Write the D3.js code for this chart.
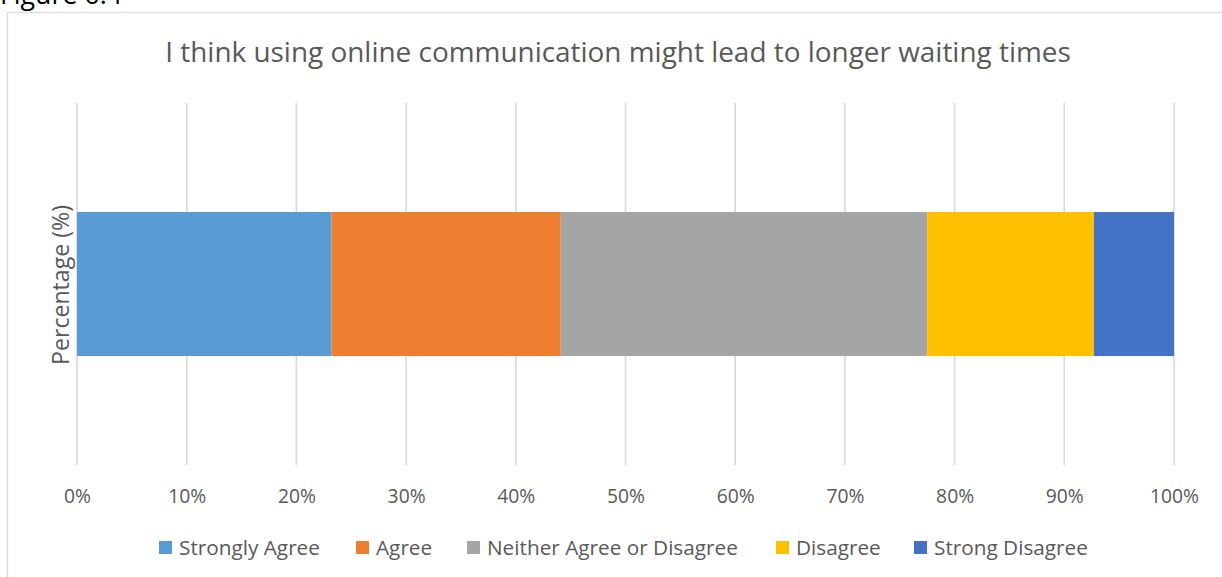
<!DOCTYPE html>
<html>
<head>
<meta charset="utf-8">
<script src="https://cdn.jsdelivr.net/npm/d3@7"></script>
<style>
  html, body { margin: 0; padding: 0; background: #fff; }
  svg { display: block; }
  text { font-family: "Open Sans", sans-serif; }
</style>
</head>
<body>
<svg id="chart" width="1222" height="577"></svg>
<script>
// Response categories and their share of answers (%)
const categories = ["Strongly Agree", "Agree", "Neither Agree or Disagree", "Disagree", "Strong Disagree"];
const shares = [23.2, 20.9, 33.4, 15.2, 7.3];
const colors = ["#5B9BD5", "#ED7D31", "#A5A5A5", "#FFC000", "#4472C4"];
const tickValues = [0, 10, 20, 30, 40, 50, 60, 70, 80, 90, 100];
const tickLabels = tickValues.map(v => v + "%");
const question = ["Percentage (%)"];

const title = "I think using online communication might lead to longer waiting times";
const textColor = "#595959";
const gridColor = "#D9D9D9";

const svg = d3.select("#chart");

// Size a text so that its run spans the wanted width
function fitSize(sel, width) {
  const base = 20;
  sel.attr("font-size", base);
  const w = sel.node().getComputedTextLength();
  const size = base * width / w;
  sel.attr("font-size", size);
  return size;
}

// Figure caption above the chart frame
const caption = svg.append("text")
  .attr("x", 0).attr("y", 4)
  .attr("fill", "#000")
  .text("Figure 6.4");
fitSize(caption, 122);

// Chart frame
svg.append("rect")
  .attr("x", 7.5).attr("y", 12.5)
  .attr("width", 1230).attr("height", 580)
  .attr("fill", "#fff")
  .attr("stroke", gridColor)
  .attr("stroke-width", 1.2);

// Plot area
const plot = { left: 77, right: 1174, top: 103, bottom: 465 };

const x = d3.scaleLinear().domain([0, 100]).range([plot.left, plot.right]);

// Vertical gridlines
svg.append("g")
  .selectAll("line")
  .data(tickValues)
  .join("line")
  .attr("x1", d => x(d)).attr("x2", d => x(d))
  .attr("y1", plot.top).attr("y2", plot.bottom)
  .attr("stroke", gridColor)
  .attr("stroke-width", 1.6);

// Stacked segments
const stacked = d3.stack().keys(categories)([Object.fromEntries(categories.map((c, i) => [c, shares[i]]))]);
svg.append("g")
  .selectAll("rect")
  .data(stacked)
  .join("rect")
  .attr("x", d => x(d[0][0]))
  .attr("width", d => x(d[0][1]) - x(d[0][0]))
  .attr("y", 212)
  .attr("height", 144)
  .attr("fill", (d, i) => colors[i]);

// X axis tick labels
const xAxis = d3.axisBottom(x)
  .tickValues(tickValues)
  .tickFormat((d, i) => tickLabels[i])
  .tickSize(0)
  .tickPadding(0);
const axisG = svg.append("g")
  .attr("transform", `translate(0, ${plot.bottom + 24})`)
  .call(xAxis);
axisG.select(".domain").remove();
const tickText = axisG.selectAll("text")
  .attr("font-family", "'Open Sans', sans-serif")
  .attr("fill", textColor);
const tickSize = fitSize(tickText.filter((d, i) => i === tickValues.length - 1), 49);
tickText.attr("font-size", tickSize);

// Title
const titleText = svg.append("text")
  .attr("x", 618).attr("y", 62)
  .attr("text-anchor", "middle")
  .attr("fill", textColor)
  .text(title);
fitSize(titleText, 906);

// Y axis title
const yTitle = svg.append("text")
  .attr("transform", "translate(69, 285) rotate(-90)")
  .attr("text-anchor", "middle")
  .attr("fill", textColor)
  .text(question[0]);
fitSize(yTitle, 160);

// Legend
const legendX = [159, 356, 467, 776, 914];
const legend = svg.append("g")
  .selectAll("g")
  .data(categories)
  .join("g")
  .attr("transform", (d, i) => `translate(${legendX[i]}, 548)`);
legend.append("rect")
  .attr("x", 0).attr("y", -7)
  .attr("width", 13).attr("height", 13)
  .attr("fill", (d, i) => colors[i]);
const legendText = legend.append("text")
  .attr("x", 20).attr("y", 7)
  .attr("fill", textColor)
  .text(d => d);
const legendSize = fitSize(legendText.filter((d, i) => i === 0), 141);
legendText.attr("font-size", legendSize);
</script>
</body>
</html>
